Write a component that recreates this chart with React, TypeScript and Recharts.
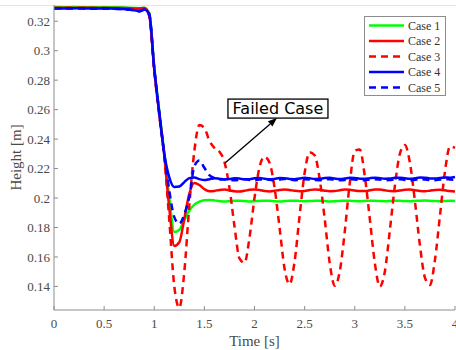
import React from "react";
import { LineChart, Line, XAxis, YAxis, ReferenceLine, ReferenceDot } from "recharts";

// time grid [s]
const times = [
  0, 0.1, 0.2, 0.3, 0.4, 0.5, 0.6, 0.7, 0.8,
  0.85, 0.9, 0.95, 1.0, 1.05, 1.1,
  1.15, 1.2, 1.25, 1.3, 1.35, 1.4, 1.45, 1.5,
  1.55, 1.6, 1.65, 1.7, 1.75, 1.8, 1.85, 1.9, 1.95, 2.0,
  2.05, 2.1, 2.15, 2.2, 2.25, 2.3, 2.35, 2.4, 2.45, 2.5,
  2.55, 2.6, 2.65, 2.7, 2.75, 2.8, 2.85, 2.9, 2.95, 3.0,
  3.05, 3.1, 3.15, 3.2, 3.25, 3.3, 3.35, 3.4, 3.45, 3.5,
  3.55, 3.6, 3.65, 3.7, 3.75, 3.8, 3.85, 3.9, 3.95, 4.0,
];

const case1 = [
  0.3296, 0.3295, 0.3296, 0.3294, 0.3295, 0.3294, 0.3294, 0.3293, 0.329,
  0.3288, 0.3292, 0.3255, 0.289, 0.259, 0.231,
  0.2, 0.177, 0.1785, 0.185, 0.1915, 0.1955, 0.1975, 0.1985,
  0.1987, 0.1984, 0.1979, 0.1976, 0.1978, 0.1981, 0.1982, 0.198, 0.1977, 0.1978,
  0.198, 0.1982, 0.1981, 0.1978, 0.1977, 0.1979, 0.1981, 0.1982, 0.198, 0.1978,
  0.1979, 0.1981, 0.1982, 0.198, 0.1977, 0.1978, 0.198, 0.1982, 0.1981, 0.1979,
  0.1978, 0.198, 0.1982, 0.1981, 0.1979, 0.1978, 0.198, 0.1982, 0.1981, 0.1979,
  0.1978, 0.198, 0.1982, 0.1983, 0.1981, 0.1979, 0.1978, 0.198, 0.1981, 0.1979,
];

const case2 = [
  0.329, 0.3291, 0.329, 0.3291, 0.329, 0.329, 0.3289, 0.3289, 0.3287,
  0.3285, 0.329, 0.324, 0.287, 0.257, 0.229,
  0.193, 0.1675, 0.17, 0.186, 0.203, 0.2102, 0.2088, 0.206,
  0.2046, 0.2048, 0.2055, 0.2058, 0.2053, 0.2046, 0.2044, 0.2049, 0.2056, 0.2058,
  0.2054, 0.2048, 0.2045, 0.2049, 0.2055, 0.2058, 0.2055, 0.2049, 0.2046, 0.2048,
  0.2054, 0.2058, 0.2056, 0.205, 0.2046, 0.2047, 0.2053, 0.2057, 0.2056, 0.2051,
  0.2047, 0.2047, 0.2052, 0.2057, 0.2057, 0.2052, 0.2047, 0.2046, 0.2051, 0.2056,
  0.2057, 0.2053, 0.2048, 0.2046, 0.205, 0.2055, 0.2056, 0.2052, 0.2047, 0.2045,
];

const case3 = [
  0.3289, 0.329, 0.3289, 0.329, 0.3289, 0.3289, 0.3288, 0.3288, 0.3286,
  0.3284, 0.3288, 0.3235, 0.2865, 0.2565, 0.228,
  0.185, 0.14, 0.1255, 0.15, 0.195, 0.232, 0.2495, 0.2475,
  0.239, 0.234, 0.2315, 0.2245, 0.207, 0.181, 0.159, 0.156, 0.173, 0.2,
  0.221, 0.228, 0.224, 0.207, 0.18, 0.152, 0.1415, 0.157, 0.188, 0.217,
  0.231, 0.229, 0.213, 0.186, 0.156, 0.1405, 0.15, 0.177, 0.21, 0.232,
  0.233, 0.215, 0.186, 0.156, 0.14, 0.15, 0.178, 0.208, 0.23, 0.236,
  0.224, 0.198, 0.168, 0.146, 0.141, 0.158, 0.188, 0.218, 0.235, 0.234,
];

const case4 = [
  0.3288, 0.3286, 0.3288, 0.3287, 0.3286, 0.3287, 0.3285, 0.3282, 0.3275,
  0.3268, 0.328, 0.325, 0.288, 0.258, 0.23,
  0.214, 0.2075, 0.2078, 0.2108, 0.2135, 0.214, 0.2128, 0.2122,
  0.2128, 0.2135, 0.2131, 0.2126, 0.2129, 0.2134, 0.2132, 0.2127, 0.2128, 0.2134,
  0.2136, 0.2131, 0.2127, 0.213, 0.2136, 0.2135, 0.2129, 0.2128, 0.2133, 0.2137,
  0.2134, 0.2129, 0.213, 0.2136, 0.2137, 0.2132, 0.2129, 0.2132, 0.2137, 0.2136,
  0.2131, 0.213, 0.2135, 0.2138, 0.2135, 0.2131, 0.2132, 0.2137, 0.2138, 0.2134,
  0.2131, 0.2134, 0.2139, 0.2138, 0.2133, 0.2132, 0.2136, 0.214, 0.2138, 0.2142,
];

const case5 = [
  0.3287, 0.3286, 0.3287, 0.3286, 0.3285, 0.3286, 0.3284, 0.3281, 0.3274,
  0.3267, 0.3278, 0.3248, 0.2878, 0.2578, 0.2295,
  0.205, 0.187, 0.1825, 0.189, 0.201, 0.2215, 0.2255, 0.2205,
  0.2155, 0.2135, 0.2125, 0.2127, 0.2124, 0.212, 0.2124, 0.2128, 0.2123, 0.2121,
  0.2125, 0.2128, 0.2124, 0.2121, 0.2125, 0.2129, 0.2125, 0.2121, 0.2123, 0.2127,
  0.2126, 0.2122, 0.2121, 0.2125, 0.2128, 0.2124, 0.2121, 0.2123, 0.2127, 0.2126,
  0.2122, 0.2121, 0.2125, 0.2128, 0.2125, 0.2121, 0.2122, 0.2127, 0.2127, 0.2123,
  0.2121, 0.2124, 0.2128, 0.2126, 0.2122, 0.2121, 0.2125, 0.2128, 0.2126, 0.2124,
];

const xTicks = [0, 0.5, 1, 1.5, 2, 2.5, 3, 3.5, 4];
const yTicks = [0.14, 0.16, 0.18, 0.2, 0.22, 0.24, 0.26, 0.28, 0.3, 0.32];

// annotation: arrow tail -> head, label centre (data coords)
const arrowFrom = { x: 1.706, y: 0.2237 };
const arrowTo = { x: 2.224, y: 0.2543 };
const noteAt = { x: 2.234, y: 0.2607 };
const noteText = "Failed Case";

const series = [
  { key: "case1", name: "Case 1", color: "#00ff00", dash: undefined },
  { key: "case2", name: "Case 2", color: "#ff0000", dash: undefined },
  { key: "case3", name: "Case 3", color: "#ff0000", dash: "7 5" },
  { key: "case4", name: "Case 4", color: "#0000ff", dash: undefined },
  { key: "case5", name: "Case 5", color: "#0000ff", dash: "7 5" },
];

const data = times.map((t, i) => ({
  t,
  case1: case1[i],
  case2: case2[i],
  case3: case3[i],
  case4: case4[i],
  case5: case5[i],
}));

const SERIF = "'Liberation Serif', 'Times New Roman', serif";
const AXIS = "#8c8c8c";
const TEXT = "#4a4a4a";

const fmt = (v: number) => String(Number(v.toFixed(2)));

function YTick(props: any) {
  const { x, y, payload } = props;
  const ax = x + 4; // tickMargin 4, tickSize 0 -> axis line
  return (
    <g>
      <line x1={ax} x2={ax + 4} y1={y} y2={y} stroke={AXIS} />
      <text x={x} y={y} dy="0.35em" textAnchor="end" fontSize={13} fill={TEXT} fontFamily={SERIF}>
        {fmt(payload.value)}
      </text>
    </g>
  );
}

function XTick(props: any) {
  const { x, y, payload } = props;
  return (
    <g>
      <line x1={x} x2={x} y1={y} y2={y - 4} stroke={AXIS} />
      <text x={x} y={y + 18} textAnchor="middle" fontSize={13} fill={TEXT} fontFamily={SERIF}>
        {fmt(payload.value)}
      </text>
    </g>
  );
}

function Arrow(props: any) {
  const { x1, y1, x2, y2 } = props;
  const a = Math.atan2(y2 - y1, x2 - x1);
  const len = 9;
  const w = 3.5;
  const bx = x2 - len * Math.cos(a);
  const by = y2 - len * Math.sin(a);
  const px = -Math.sin(a) * w;
  const py = Math.cos(a) * w;
  return (
    <g>
      <line x1={x1} y1={y1} x2={bx} y2={by} stroke="#000" strokeWidth={1.3} />
      <polygon
        points={`${x2},${y2} ${bx + px},${by + py} ${bx - px},${by - py}`}
        fill="#000"
      />
    </g>
  );
}

function NoteBox(props: any) {
  const { cx, cy } = props;
  return (
    <g>
      <rect x={cx - 50} y={cy - 9.5} width={100} height={19} fill="#fff" stroke="#000" strokeWidth={1.3} />
      <text
        x={cx}
        y={cy}
        dy="0.36em"
        textAnchor="middle"
        fontSize={16}
        fill="#000"
        fontFamily="'DejaVu Sans', sans-serif"
      >
        {noteText}
      </text>
    </g>
  );
}

function LegendBox() {
  const rows = [9, 24.5, 40, 55.5, 71];
  return (
    <svg
      width={83}
      height={81}
      style={{ position: "absolute", left: 364, top: 16 }}
    >
      <rect x={0.5} y={0.5} width={81} height={79} fill="#fff" stroke={AXIS} />
      {series.map((s, i) => (
        <g key={s.key}>
          <line
            x1={5}
            x2={40}
            y1={rows[i] + 0.5}
            y2={rows[i] + 0.5}
            stroke={s.color}
            strokeWidth={2.5}
            strokeDasharray={s.dash}
          />
          <text x={44} y={rows[i] + 0.5} dy="0.35em" fontSize={12} fill="#333" fontFamily={SERIF}>
            {s.name}
          </text>
        </g>
      ))}
    </svg>
  );
}

export default function App() {
  return (
    <div style={{ position: "absolute", left: 0, top: 0, width: 456, height: 350, background: "#fff" }}>
      <div style={{ position: "absolute", left: 0, top: 5, width: 456, height: 1, background: "#e4e4e4" }} />
      <LineChart width={456} height={350} data={data} margin={{ top: 5, right: 1, bottom: 0, left: 0 }}>
        <XAxis
          dataKey="t"
          type="number"
          domain={[0, 4]}
          ticks={xTicks}
          interval={0}
          height={40}
          tickSize={0}
          tickMargin={0}
          tick={<XTick />}
          axisLine={{ stroke: AXIS }}
          label={{
            value: "Time [s]",
            position: "insideBottom",
            offset: 4,
            fontSize: 15,
            fill: TEXT,
            fontFamily: SERIF,
          }}
        />
        <YAxis
          type="number"
          domain={[0.124, 0.331]}
          allowDataOverflow
          ticks={yTicks}
          interval={0}
          width={54}
          tickSize={0}
          tickMargin={4}
          tick={<YTick />}
          axisLine={{ stroke: AXIS }}
          label={{
            value: "Height [m]",
            angle: -90,
            position: "insideLeft",
            offset: 16,
            fontSize: 15,
            fill: TEXT,
            fontFamily: SERIF,
            style: { textAnchor: "middle" },
          }}
        />
        {series.map((s) => (
          <Line
            key={s.key}
            dataKey={s.key}
            name={s.name}
            type="monotone"
            stroke={s.color}
            strokeWidth={2.5}
            strokeDasharray={s.dash}
            dot={false}
            isAnimationActive={false}
          />
        ))}
        <ReferenceLine segment={[arrowFrom, arrowTo]} shape={<Arrow />} />
        <ReferenceDot x={noteAt.x} y={noteAt.y} r={1} shape={<NoteBox />} />
      </LineChart>
      <LegendBox />
    </div>
  );
}
